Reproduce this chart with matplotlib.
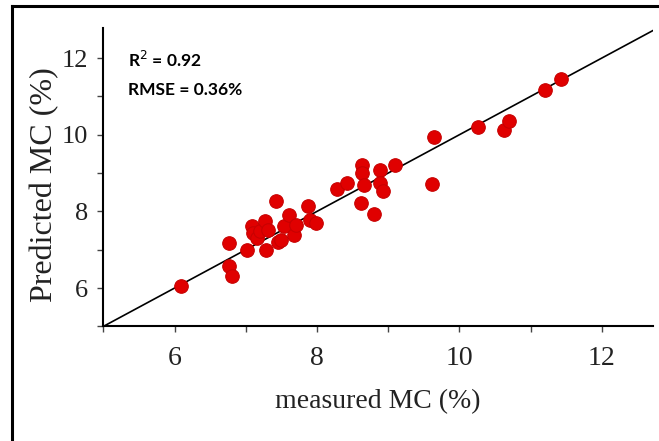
import numpy as np
import matplotlib.pyplot as plt
from matplotlib.ticker import FixedLocator
from matplotlib.lines import Line2D

# measured vs predicted moisture content (%)
measured = [6.09, 6.77, 6.77, 6.80, 7.01, 7.08, 7.10, 7.15, 7.20, 7.27,
            7.29, 7.31, 7.43, 7.45, 7.50, 7.53, 7.61, 7.67, 7.71, 7.87,
            7.90, 7.99, 8.28, 8.42, 8.62, 8.63, 8.63, 8.66, 8.80, 8.88,
            8.88, 8.92, 9.09, 9.62, 9.64, 10.26, 10.63, 10.69, 11.20, 11.42]
predicted = [6.05, 7.17, 6.58, 6.32, 6.98, 7.61, 7.43, 7.30, 7.48, 7.74,
             7.00, 7.52, 8.26, 7.21, 7.26, 7.61, 7.91, 7.39, 7.65, 8.15,
             7.78, 7.69, 8.59, 8.75, 8.22, 9.22, 9.00, 8.69, 7.94, 9.07,
             8.74, 8.52, 9.22, 8.71, 9.94, 10.19, 10.13, 10.37, 11.16, 11.46]

major_ticks = [6, 8, 10, 12]
minor_ticks = [5, 7, 9, 11]
x_max = 12.72
y_max = 12.79

fig = plt.figure(figsize=(6.59, 4.41), dpi=100)
ax = fig.add_axes([0.157, 0.26, 0.834, 0.677])

ax.plot([5, x_max], [5, x_max], color='black', lw=1.2, zorder=1)
ax.scatter(measured, predicted, s=95, color='#e00000', edgecolors='#c80000',
           linewidths=0.8, zorder=2)

ax.set_xlim(5, x_max)
ax.set_ylim(5, y_max)
for spine in ['top', 'right']:
    ax.spines[spine].set_visible(False)
for spine in ['left', 'bottom']:
    ax.spines[spine].set_linewidth(1.5)

serif = 'Liberation Serif'
ax.set_xticks(major_ticks)
ax.set_yticks(major_ticks)
ax.xaxis.set_minor_locator(FixedLocator(minor_ticks))
ax.yaxis.set_minor_locator(FixedLocator(minor_ticks))
ax.tick_params(which='both', direction='out', length=4, width=1, color='#444444')
ax.tick_params(axis='x', which='major', pad=10)
ax.tick_params(axis='y', which='major', pad=7)
for lab in ax.get_xticklabels():
    lab.set_fontfamily(serif)
    lab.set_fontsize(20)
    lab.set_color('#222222')
for lab in ax.get_yticklabels():
    lab.set_fontfamily(serif)
    lab.set_fontsize(19)
    lab.set_color('#222222')

# axis labels placed in figure coords to match the original layout
fig.text(378 / 659, 1 - 402 / 441, 'measured MC (%)', fontfamily=serif, fontsize=20,
         color='#222222', ha='center', va='center')
fig.text(45 / 659, 1 - 185 / 441, 'Predicted MC (%)', fontfamily=serif, fontsize=23,
         color='#222222', ha='center', va='center', rotation=90)

ax.text(0.045, 0.893, 'R$^2$ = 0.92', transform=ax.transAxes, fontsize=12.5,
        fontweight='bold', family=['Lato', 'DejaVu Sans'],
        va='center', ha='left')
ax.text(0.045, 0.792, 'RMSE = 0.36%', transform=ax.transAxes, fontsize=12.5,
        fontweight='bold', family=['Lato', 'DejaVu Sans'],
        va='center', ha='left')

# outer frame (left and top edges visible in the original)
fig.add_artist(Line2D([12 / 659, 12 / 659], [0, 1 - 6 / 441], color='black', lw=2.2))
fig.add_artist(Line2D([12 / 659, 1], [1 - 6 / 441, 1 - 6 / 441], color='black', lw=2.2))

fig.savefig('out.png', dpi=100)
